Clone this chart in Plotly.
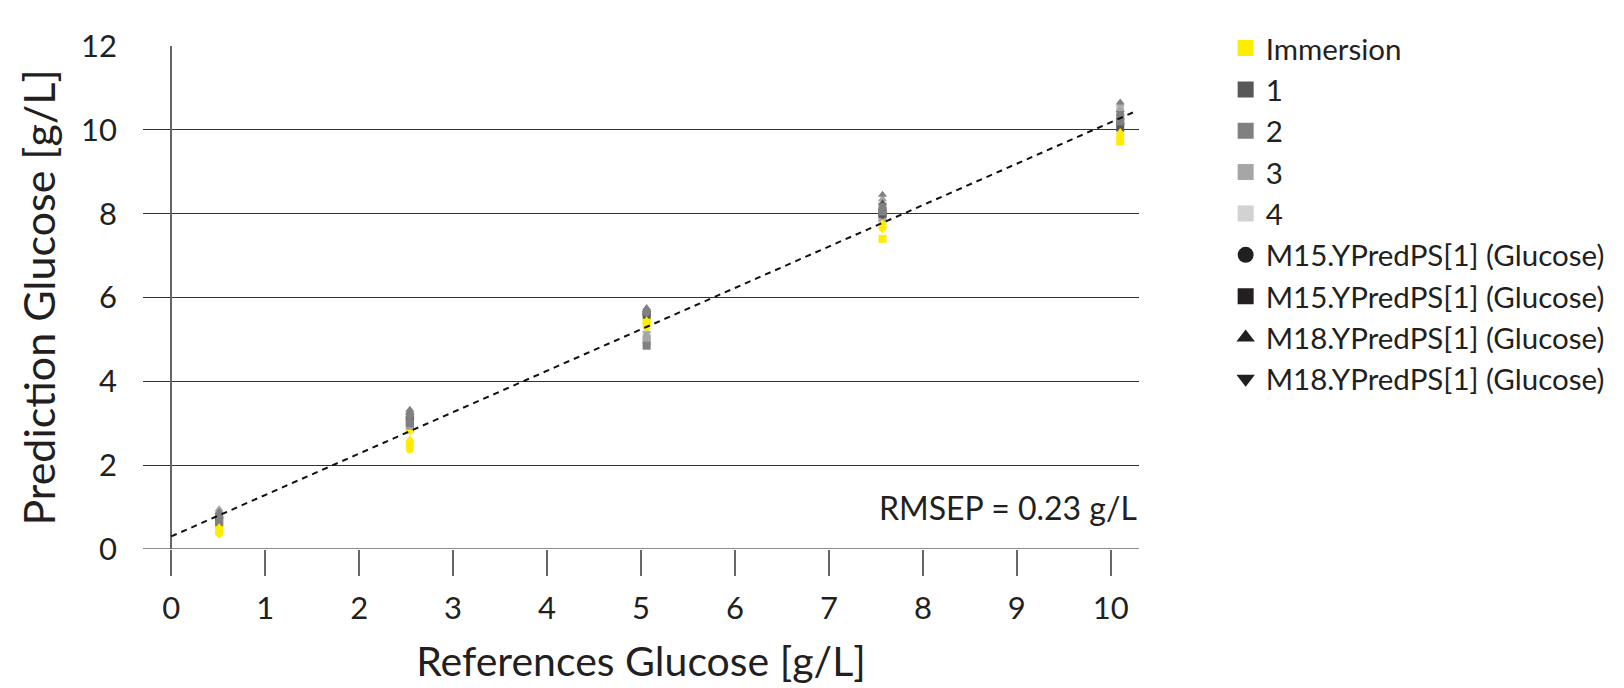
import plotly.graph_objects as go

# ---------------- data ----------------
reference = [0.51, 2.54, 5.06, 7.57, 10.10]

imm_m15_circle = [0.38, 2.38, 5.30, 7.68, 9.85]
imm_m15_square = [0.45, 2.48, 5.40, 7.40, 9.72]
imm_m18_up = [0.52, 2.62, 5.45, 7.78, 9.95]
imm_m18_down = [0.34, 2.80, 5.35, 7.62, 9.80]

g1_m15_circle = [0.72, 3.15, 5.62, 8.10, 10.15]
g1_m15_square = [0.66, 3.05, 5.58, 8.00, 10.05]
g1_m18_up = [0.80, 3.25, 5.70, 8.25, 10.30]
g1_m18_down = [0.70, 3.10, 5.55, 7.95, 10.10]

g2_m15_circle = [0.78, 3.20, 5.65, 8.15, 10.35]
g2_m15_square = [0.62, 3.00, 4.85, 8.05, 10.20]
g2_m18_up = [0.88, 3.32, 5.75, 8.45, 10.65]
g2_m18_down = [0.74, 3.12, 5.60, 8.20, 10.40]

g3_m15_circle = [0.82, 2.95, 5.05, 8.00, 10.45]
g3_m15_square = [0.64, 2.90, 4.95, 7.90, 10.25]
g3_m18_up = [0.95, 3.28, 5.72, 8.35, 10.60]
g3_m18_down = [0.80, 3.05, 5.15, 7.92, 10.30]

g4_m15_circle = [0.86, 2.98, 5.10, 7.95, 10.50]
g4_m15_square = [0.60, 2.85, 5.00, 7.85, 10.20]
g4_m18_up = [0.92, 3.10, 5.20, 8.30, 10.55]
g4_m18_down = [0.84, 3.00, 5.08, 7.88, 10.35]

group_names = ["Immersion", "1", "2", "3", "4"]
group_colors = ["#ffec00", "#58585a", "#808082", "#a6a6a8", "#d1d2d4"]
model_names = ["M15.YPredPS[1] (Glucose)", "M15.YPredPS[1] (Glucose)",
               "M18.YPredPS[1] (Glucose)", "M18.YPredPS[1] (Glucose)"]
model_symbols = ["circle", "square", "triangle-up", "triangle-down"]

fit_intercept = 0.30
fit_slope = 0.988
fit_x = [0.0, 10.25]
rmsep_label = "RMSEP = 0.23 g/L"

x_ticks = list(range(0, 11))
y_ticks = list(range(0, 13, 2))

# ---------------- figure ----------------
FONT = "Lato"
TXT = "#231f20"
fig = go.Figure()

group_data = {
    "Immersion": [imm_m15_circle, imm_m15_square, imm_m18_up, imm_m18_down],
    "1": [g1_m15_circle, g1_m15_square, g1_m18_up, g1_m18_down],
    "2": [g2_m15_circle, g2_m15_square, g2_m18_up, g2_m18_down],
    "3": [g3_m15_circle, g3_m15_square, g3_m18_up, g3_m18_down],
    "4": [g4_m15_circle, g4_m15_square, g4_m18_up, g4_m18_down],
}
draw_order = ["4", "3", "1", "2", "Immersion"]
for g in draw_order:
    col = group_colors[group_names.index(g)]
    for vals, sym in zip(group_data[g], model_symbols):
        fig.add_trace(go.Scatter(
            x=reference, y=vals, mode="markers", showlegend=False,
            marker=dict(symbol=sym, size=8, color=col, line=dict(width=0)),
        ))

# regression line
fit_y = [fit_intercept + fit_slope * v for v in fit_x]
fig.add_trace(go.Scatter(x=fit_x, y=fit_y, mode="lines", showlegend=False,
                         line=dict(color="#111111", width=2, dash="6px,5px")))

# legend entries
k = 0
for name, col in zip(group_names, group_colors):
    fig.add_trace(go.Scatter(x=[None], y=[None], mode="markers", name=name,
                             legendgroup=f"g{k}",
                             marker=dict(symbol="square", size=16, color=col)))
    k += 1
for name, sym in zip(model_names, model_symbols):
    fig.add_trace(go.Scatter(x=[None], y=[None], mode="markers", name=name,
                             legendgroup=f"g{k}",
                             marker=dict(symbol=sym, size=16, color="#231f20")))
    k += 1

fig.add_annotation(text=rmsep_label, x=1.0, xref="paper", y=1.0, yref="y",
                   xanchor="right", yanchor="middle", showarrow=False,
                   font=dict(family=FONT, size=32, color=TXT))

fig.update_layout(
    width=1624, height=688,
    margin=dict(l=135, r=493, t=38, b=147, autoexpand=False),
    plot_bgcolor="white", paper_bgcolor="white",
    font=dict(family=FONT, color=TXT),
    legend=dict(x=1.087, xanchor="left", y=1.047, yanchor="top",
                traceorder="grouped", tracegroupgap=0, maxheight=600,
                font=dict(family=FONT, size=29.5, color=TXT),
                itemsizing="trace", bgcolor="rgba(0,0,0,0)"),
    xaxis=dict(range=[-0.3, 10.3], tickvals=x_ticks, showgrid=False,
               zeroline=True, zerolinecolor="#666666", zerolinewidth=1.5,
               showline=False, ticks="outside", ticklen=26,
               tickcolor="#666666", tickwidth=1.5, ticklabelstandoff=6,
               tickfont=dict(family=FONT, size=31, color=TXT),
               title=dict(text="References Glucose [g/L]", standoff=22,
                          font=dict(family=FONT, size=41, color=TXT))),
    yaxis=dict(range=[0, 12], tickvals=y_ticks, showgrid=True,
               gridcolor="#333333", gridwidth=1.2, zeroline=False,
               showline=False, ticks="", ticklabelstandoff=25,
               tickfont=dict(family=FONT, size=31, color=TXT),
               title=dict(text="Prediction Glucose [g/L]", standoff=11,
                          font=dict(family=FONT, size=43, color=TXT))),
)
fig.add_shape(type="line", xref="paper", yref="y", x0=0, x1=1, y0=0, y1=0,
              line=dict(color="#666666", width=1.5))

fig.write_html("out.html")
